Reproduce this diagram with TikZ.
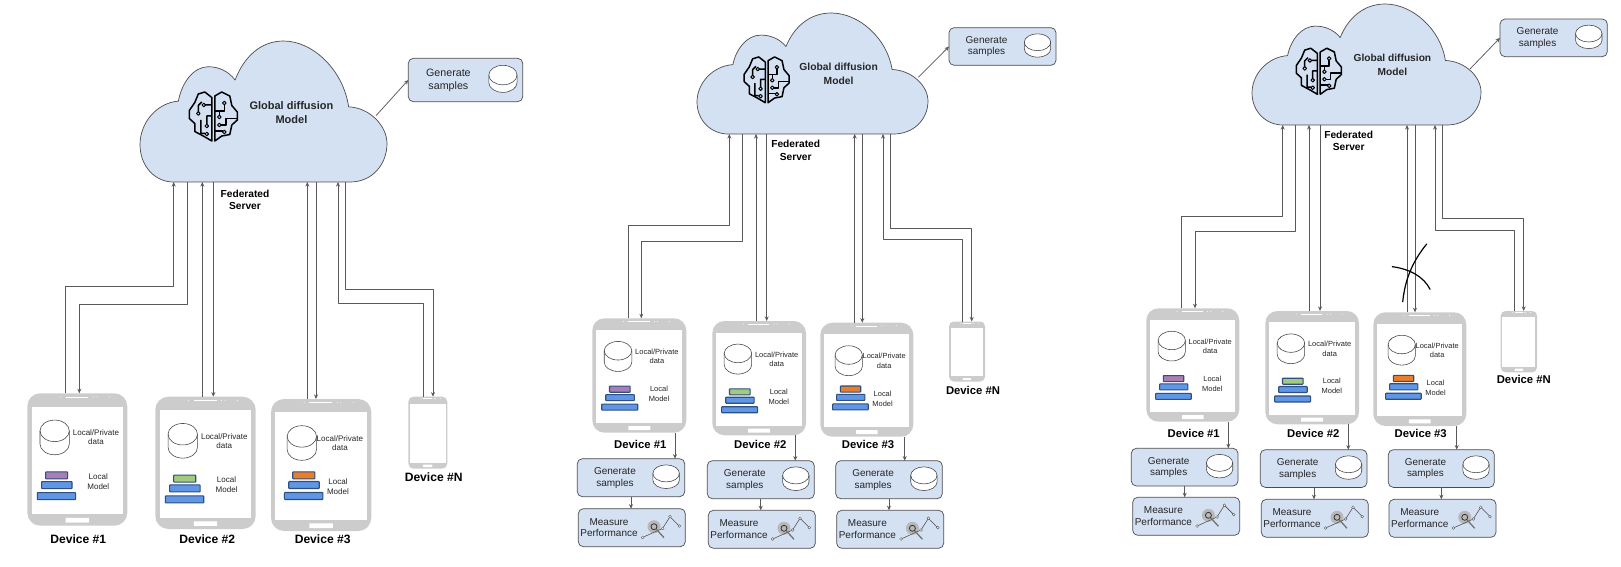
\documentclass[tikz,border=0pt]{standalone}
\usepackage{fontspec}
\setmainfont{Liberation Sans}
\usetikzlibrary{arrows.meta}
\definecolor{boxblue}{HTML}{D4E1F3}
\definecolor{phonegray}{HTML}{CCCCCC}
\definecolor{barblue}{HTML}{5F97E6}
\definecolor{baredge}{HTML}{2F4F7F}
\definecolor{barpurple}{HTML}{A77FB5}
\definecolor{bargreen}{HTML}{A2CB7D}
\definecolor{barorange}{HTML}{E67E2B}
\tikzset{
  wire/.style={->,line width=.75pt,draw=black!65},
  phone/.style={fill=phonegray,inner sep=0pt,outer sep=0pt,anchor=north west},
  panelbox/.style={draw=black!70,fill=boxblue,line width=.7pt,rounded corners=5pt,inner sep=0pt,outer sep=0pt,anchor=north west},
  disk/.style={draw=black!75,fill=white,line width=.55pt},
  bar/.style={draw=baredge,line width=1.1pt,rounded corners=.6pt},
  txt/.style={align=center,inner sep=0pt,text=black!85},
  devlabel/.style={inner sep=0pt,font=\fontsize{11.3}{13}\selectfont\bfseries},
  devlarge/.style={inner sep=0pt,font=\fontsize{12.1}{14}\selectfont\bfseries},
  fedlabel/.style={align=center,inner sep=0pt,font=\fontsize{10.2}{12.6}\selectfont\bfseries}
}
% disk centred at #1,#2 with size #3 x #4, #5 is the part of its height under the lid curve
\newcommand{\diskshape}[5]{
  \pgfmathsetmacro\dw{(#3)/2}\pgfmathsetmacro\dh{#4}
  \pgfmathsetmacro\dlow{.5-#5}\pgfmathsetmacro\dmid{.5-.45*#5}\pgfmathsetmacro\dlid{-.5+#5}
  \begin{scope}[shift={(#1,#2)},x=\dw pt,y=-\dh pt]
    \draw[disk] (-1,\dlid) .. controls (-1,-.5+.45*#5) and (-.55,-.5) .. (0,-.5)
      .. controls (.55,-.5) and (1,-.5+.45*#5) .. (1,\dlid) -- (1,\dlow)
      .. controls (1,\dmid) and (.55,.5) .. (0,.5)
      .. controls (-.55,.5) and (-1,\dmid) .. (-1,\dlow) -- cycle;
    \draw[disk,fill=none] (-1,\dlid) .. controls (-1,-.5+1.55*#5) and (-.55,-.5+2*#5) .. (0,-.5+2*#5)
      .. controls (.55,-.5+2*#5) and (1,-.5+1.55*#5) .. (1,\dlid);
  \end{scope}
}
% phone outline with screen, speaker and home button
\newcommand{\phonebody}[5]{
  \pgfmathsetmacro\phx{#4/100}\pgfmathsetmacro\phy{#5/132}\pgfmathsetmacro\phr{13*\phx}
  \node[phone,minimum width=#4pt,minimum height=#5pt,rounded corners=\phr pt] (#1) at (#2,#3) {};
  \begin{scope}[shift={(#2,#3)},x=\phx pt,y=-\phy pt]
    \fill[white] (4.3,13.3) rectangle (95.7,120.7);
    \fill[white,rounded corners=.5pt] (38.3,124.3) rectangle (61.7,129);
    \draw[white,line width=.5pt] (38.3,3.7)--(61,3.7);
    \foreach \q in {33,66,69.5,82} \fill[white] (\q,3.7) circle (.5pt);
  \end{scope}
}
% phone with its data disk and model stack
\newcommand{\phonefull}[8]{
  \phonebody{#1}{#2}{#3}{#4}{#5}
  \pgfmathsetmacro\fnt{8*\phx}
  \begin{scope}[shift={(#2,#3)},x=\phx pt,y=-\phy pt]
    \node[txt,font=\fontsize{\fnt}{9.3}\selectfont] (#1d) at (68.7,44) {Local/Private\\data};
    \node[txt,font=\fontsize{\fnt}{10}\selectfont] (#1m) at ({71-1.25*#7},87.7) {Local\\Model};
    \begin{scope}[shift={(#7,#8)}]
      \draw[bar,fill=#6] (18.3,78.3) rectangle (40.3,85.3);
      \draw[bar,fill=barblue] (14.3,88) rectangle (44.7,95);
      \draw[bar,fill=barblue] (10,99) rectangle (48.3,106);
    \end{scope}
    \diskshape{27.35+#7}{44}{29.3*\phx}{34.6*\phy}{.31}
  \end{scope}
}
% "Generate samples" box
\newcommand{\genbox}[5]{
  \pgfmathsetmacro\bx{#4/107}\pgfmathsetmacro\by{#5/38}\pgfmathsetmacro\fnt{10*\bx}\pgfmathsetmacro\lnh{11.5*\by}
  \node[panelbox,minimum width=#4pt,minimum height=#5pt] (#1) at (#2,#3) {};
  \begin{scope}[shift={(#2,#3)},x=\bx pt,y=-\by pt]
    \node[txt,font=\fontsize{\fnt}{\lnh}\selectfont] (#1t) at (37.5,19.3) {Generate\\samples};
    \diskshape{88.5}{18}{26.4*\bx}{23.7*\by}{.36}
  \end{scope}
}
% "Measure Performance" box with chart and lens
\newcommand{\mesbox}[3]{
  \node[panelbox,minimum width=107pt,minimum height=38pt] (#1) at (#2,#3) {};
  \node[txt,anchor=center,font=\fontsize{10}{11.7}\selectfont] (#1t) at (#2+30.7,#3+19) {Measure\\Performance};
  \begin{scope}[shift={(#2,#3)}]
    \fill[black!28] (75.7,18) circle (6.5pt);
    \draw[black!70,line width=.55pt] (64.3,28.7)--(84.3,19.7)--(91.7,8)--(101,17.3);
    \foreach \q in {(64.3,28.7),(84.3,19.7),(91.7,8),(101,17.3)} \draw[black!60,fill=white,line width=.5pt] \q circle (1.4pt);
    \draw[black!80,line width=.8pt] (75.7,18) circle (3pt);
    \draw[black!55,line width=1.3pt] (78,20.5)--(85.7,29);
  \end{scope}
}
% cloud with the brain icon, #1 is the name of its frame
\newcommand{\server}[9]{
  \pgfmathsetmacro\clx{#4/740}\pgfmathsetmacro\cly{#5/422}
  \begin{scope}[shift={(#2,#3)},x=\clx pt,y=-\cly pt]
    \draw[fill=boxblue,draw=black!70,line width=.7pt] (100,422) -- (630,422)
      .. controls (695,422) and (740,370) .. (740,307)
      .. controls (740,255) and (690,200) .. (625,197)
      .. controls (610,90) and (520,0) .. (430,0)
      .. controls (360,0) and (310,50) .. (285,117)
      .. controls (265,90) and (235,77) .. (205,77)
      .. controls (160,77) and (125,125) .. (115,180)
      .. controls (50,185) and (0,245) .. (0,310)
      .. controls (0,375) and (45,422) .. (100,422) -- cycle;
  \end{scope}
  \node[inner sep=0pt,outer sep=0pt,anchor=north west,minimum width=#4pt,minimum height=#5pt] (#1) at (#2,#3) {};
  \pgfmathsetmacro\brx{#8/100}
  \begin{scope}[shift={(#6,#7)},x=\brx pt,y=-\brx pt,line width=1.5pt,black,line join=round]
    \draw (47,13)--(33,2)--(20,6)--(13,23)--(2,39)--(2,55)--(13,65)--(13,81)--(30,90)--(47,100)--cycle;
    \draw (53,100)--(53,10)--(67,2)--(83,10)--(87,29)--(98,42)--(98,58)--(87,68)--(83,87)--(67,90)--cycle;
    \draw (47,28)--(34,28) (20,42)--(20,29)--(27,22) (47,50)--(37,50)--(37,66) (25,58)--(25,85)--(33,85);
    \draw (53,40)--(72,40)--(72,27) (62,40)--(62,49) (66,68)--(75,68)--(75,55)--(98,55) (53,80)--(62,80)--(69,80);
    \foreach \q in {(31,28),(20,45),(37,70),(37,86),(72,24),(62,52),(62,68),(72,82)} \draw[fill=boxblue,line width=1pt] \q circle (1.8pt);
  \end{scope}
  \node[txt,font=\fontsize{#9}{14}\selectfont\bfseries] (#1t) at (#2+#4*.613,#3+#5*.505) {Global diffusion\\Model};
}
\begin{document}
\begin{tikzpicture}[x=1pt,y=-1pt,line join=round,>={Stealth[length=4.6pt,width=4pt]}]
\useasboundingbox (0,0) rectangle (1621,566.5);

%first panel
\server{cloud1}{140}{41}{247}{141}{188.3}{91}{50}{11}
\genbox{gen10}{408.3}{58.3}{114.4}{43.4}
\phonefull{dev11}{27.3}{393.3}{100}{132.4}{barpurple}{0}{0}
\phonefull{dev12}{155.3}{396.7}{100.4}{132.3}{bargreen}{0}{0}
\phonefull{dev13}{271}{399}{100.3}{132}{barorange}{3.4}{-5.5}
\phonebody{dev14}{408.3}{396.7}{39}{72}
\node[devlarge] (lab11) at (78.3,539.3) {Device \#1};
\node[devlarge] (lab12) at (207.3,539.3) {Device \#2};
\node[devlarge] (lab13) at (322.7,539.3) {Device \#3};
\node[devlarge] (lab14) at (433.7,477.3) {Device \#N};
\node[fedlabel] (fed1) at (245,200) {Federated\\Server};
\draw[wire] (376,115.7) coordinate (out1) -- (gen10.west);
\draw[wire] (65.3,0 |- dev11.north) |- (173.7,286.3) -- (173.7,0 |- cloud1.south);
\draw[wire] (187.7,0 |- cloud1.south) |- (79.3,304.3) -- (79.3,0 |- dev11.north);
\draw[wire] (202.3,0 |- dev12.north) -- (202.3,0 |- cloud1.south);
\draw[wire] (213.3,0 |- cloud1.south) -- (213.3,0 |- dev12.north);
\draw[wire] (307.3,0 |- dev13.north) -- (307.3,0 |- cloud1.south);
\draw[wire] (316,0 |- cloud1.south) -- (316,0 |- dev13.north);
\draw[wire] (423.3,0 |- dev14.north) |- (338,303.3) -- (338,0 |- cloud1.south);
\draw[wire] (345.7,0 |- cloud1.south) |- (433,289.3) -- (433,0 |- dev14.north);

%second panel
\server{cloud2}{697}{13}{231}{121}{743.3}{56}{46.7}{10.3}
\genbox{gen20}{949}{27.7}{107}{37.6}
\phonefull{dev21}{592.3}{318.3}{94}{114.4}{barpurple}{0}{0}
\phonefull{dev22}{712.3}{321}{93.7}{114.3}{bargreen}{0}{0}
\phonefull{dev23}{820.3}{322.7}{93}{114}{barorange}{3.2}{-5}
\phonebody{dev24}{949}{321.5}{36}{60}
\node[devlabel] (lab21) at (640.3,444.7) {Device \#1};
\node[devlabel] (lab22) at (760.3,444.7) {Device \#2};
\node[devlabel] (lab23) at (868,444.7) {Device \#3};
\node[devlabel] (lab24) at (973,390) {Device \#N};
\node[fedlabel] (fed2) at (795.7,150.5) {Federated\\Server};
\genbox{gen21}{577.3}{458.7}{107.4}{38}
\genbox{gen22}{707.3}{460.7}{107}{38}
\genbox{gen23}{835.7}{460.7}{106.6}{38}
\mesbox{mes21}{578.3}{508.7}
\mesbox{mes22}{708.3}{510.3}
\mesbox{mes23}{836.7}{510.3}
\draw[wire] (918.3,77.3) coordinate (out2) -- (gen20.west);
\draw[wire] (628.3,0 |- dev21.north) |- (729.3,225.3) -- (729.3,0 |- cloud2.south);
\draw[wire] (742.7,0 |- cloud2.south) |- (641.3,241.3) -- (641.3,0 |- dev21.north);
\draw[wire] (756,0 |- dev22.north) -- (756,0 |- cloud2.south);
\draw[wire] (766.7,0 |- cloud2.south) -- (766.7,0 |- dev22.north);
\draw[wire] (854.7,0 |- dev23.north) -- (854.7,0 |- cloud2.south);
\draw[wire] (862.3,0 |- cloud2.south) -- (862.3,0 |- dev23.north);
\draw[wire] (962.7,0 |- dev24.north) |- (883,239.7) -- (883,0 |- cloud2.south);
\draw[wire] (890,0 |- cloud2.south) |- (971.7,228) -- (971.7,0 |- dev24.north);
\draw[wire] (675,0 |- dev21.south) -- (675,0 |- gen21.north);
\draw[wire] (795.3,0 |- dev22.south) -- (795.3,0 |- gen22.north);
\draw[wire] (904.7,0 |- dev23.south) -- (904.7,0 |- gen23.north);
\draw[wire] (631,0 |- gen21.south) -- (631,0 |- mes21.north);
\draw[wire] (760.7,0 |- gen22.south) -- (760.7,0 |- mes22.north);
\draw[wire] (889,0 |- gen23.south) -- (889,0 |- mes23.north);

%third panel
\server{cloud3}{1252}{4}{229}{121}{1295.3}{47.3}{47}{10.2}
\genbox{gen30}{1500}{19}{107.3}{37.7}
\phonefull{dev31}{1146.3}{308.3}{93}{113.4}{barpurple}{0}{0}
\phonefull{dev32}{1265.3}{311}{93.7}{113.3}{bargreen}{0}{0}
\phonefull{dev33}{1373.3}{312.3}{93}{113.7}{barorange}{3.2}{-5}
\phonebody{dev34}{1500.7}{311}{36.3}{61.3}
\node[devlabel] (lab31) at (1193.7,433.3) {Device \#1};
\node[devlabel] (lab32) at (1313.3,433.3) {Device \#2};
\node[devlabel] (lab33) at (1420.7,433.3) {Device \#3};
\node[devlabel] (lab34) at (1523.8,379.4) {Device \#N};
\node[fedlabel] (fed3) at (1348.7,141) {Federated\\Server};
\genbox{gen31}{1131.3}{448.3}{106.7}{37.7}
\genbox{gen32}{1260.3}{449.7}{106.7}{37.7}
\genbox{gen33}{1388.3}{449.7}{106}{37.7}
\mesbox{mes31}{1132.7}{497.3}
\mesbox{mes32}{1261.3}{499.3}
\mesbox{mes33}{1389}{499.3}
\draw[wire] (1470,69) coordinate (out3) -- (gen30.west);
\draw[wire] (1181.7,0 |- dev31.north) |- (1282.7,216) -- (1282.7,0 |- cloud3.south);
\draw[wire] (1295.7,0 |- cloud3.south) |- (1195,231.3) -- (1195,0 |- dev31.north);
\draw[wire] (1309,0 |- dev32.north) -- (1309,0 |- cloud3.south);
\draw[wire] (1320,0 |- cloud3.south) -- (1320,0 |- dev32.north);
\draw[wire] (1407,0 |- dev33.north) -- (1407,0 |- cloud3.south);
\draw[wire] (1415,0 |- cloud3.south) -- (1415,0 |- dev33.north);
\draw[wire] (1514.7,0 |- dev34.north) |- (1435,230) -- (1435,0 |- cloud3.south);
\draw[wire] (1442.3,0 |- cloud3.south) |- (1523.7,218) -- (1523.7,0 |- dev34.north);
\draw[wire] (1228.3,0 |- dev31.south) -- (1228.3,0 |- gen31.north);
\draw[wire] (1348.3,0 |- dev32.south) -- (1348.3,0 |- gen32.north);
\draw[wire] (1456.7,0 |- dev33.south) -- (1456.7,0 |- gen33.north);
\draw[wire] (1184.7,0 |- gen31.south) -- (1184.7,0 |- mes31.north);
\draw[wire] (1314,0 |- gen32.south) -- (1314,0 |- mes32.north);
\draw[wire] (1441.3,0 |- gen33.south) -- (1441.3,0 |- mes33.north);
%broken link to the third device
\draw[black,line width=1.2pt,line cap=round] (1402.7,301.7) .. controls (1405,280) and (1412,262) .. (1426.7,244);
\draw[black,line width=1.2pt,line cap=round] (1392.3,266.7) .. controls (1410,269) and (1424,277) .. (1430,289.3);
\end{tikzpicture}
\end{document}
